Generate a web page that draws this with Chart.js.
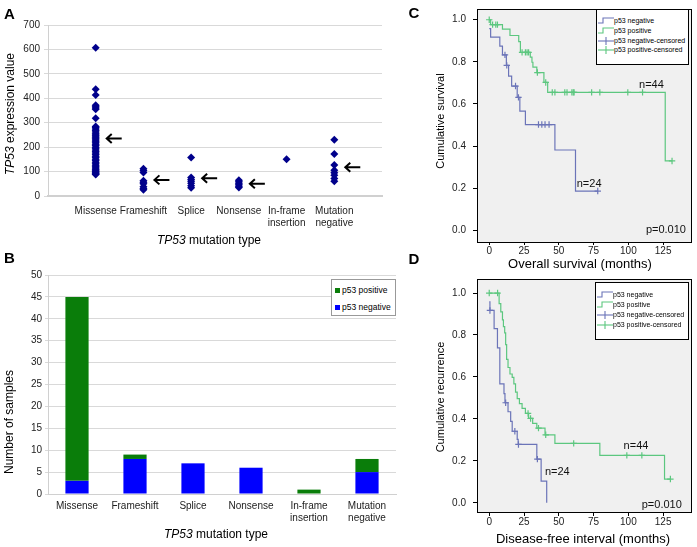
<!DOCTYPE html>
<html>
<head>
<meta charset="utf-8">
<script src="https://cdn.jsdelivr.net/npm/chart.js@4.4.0/dist/chart.umd.min.js"></script>
<style>
body{margin:0;width:697px;height:547px;background:#fff;position:relative;overflow:hidden;font-family:"Liberation Sans",Arial,sans-serif;color:#000;}
canvas{position:absolute;}
.lbl{position:absolute;white-space:nowrap;transform:translate(-50%,-50%);line-height:1;}
.rot{transform:translate(-50%,-50%) rotate(-90deg);}
.letter{font-weight:bold;font-size:15px;}
.legend{position:absolute;background:#fff;border:1px solid #000;}
.legend div{position:absolute;white-space:nowrap;line-height:1;}
.legend svg{vertical-align:middle;}
.sq{display:inline-block;width:5px;height:5px;margin-right:2px;vertical-align:middle;}
</style>
</head>
<body>
<canvas id="chartA" width="400" height="255" style="left:0;top:0"></canvas>
<canvas id="chartB" width="400" height="285" style="left:0;top:262px"></canvas>
<canvas id="chartC" width="297" height="274" style="left:400px;top:-4px"></canvas>
<canvas id="chartD" width="297" height="281" style="left:400px;top:266px"></canvas>

<div class="lbl letter" style="left:9.5px;top:12.5px">A</div>
<div class="lbl letter" style="left:9.5px;top:257px">B</div>
<div class="lbl letter" style="left:414px;top:12px">C</div>
<div class="lbl letter" style="left:414px;top:258px">D</div>

<div class="lbl rot" style="left:10px;top:114px;font-size:12px"><i>TP53</i> expression value</div>
<div class="lbl" style="left:209px;top:240px;font-size:12px"><i>TP53</i> mutation type</div>
<div class="lbl rot" style="left:9px;top:422px;font-size:12px">Number of samples</div>
<div class="lbl" style="left:216px;top:534px;font-size:12px"><i>TP53</i> mutation type</div>
<div class="lbl rot" style="left:440px;top:121px;font-size:11px">Cumulative survival</div>
<div class="lbl" style="left:580px;top:263px;font-size:13px">Overall survival (months)</div>
<div class="lbl rot" style="left:440px;top:397px;font-size:11px">Cumulative recurrence</div>
<div class="lbl" style="left:583px;top:538px;font-size:13px">Disease-free interval (months)</div>

<div class="legend" style="left:331px;top:279px;width:63px;height:35px;border-color:#999;font-size:8.5px">
  <div style="left:3px;top:6px"><span class="sq" style="background:#0a7d0a"></span>p53 positive</div>
  <div style="left:3px;top:23px"><span class="sq" style="background:#0000ff"></span>p53 negative</div>
</div>

<div id="legC" class="legend" style="left:596px;top:9px;width:91px;height:54px;font-size:7px"></div>
<div id="legD" class="legend" style="left:595px;top:282px;width:92px;height:56px;font-size:7px"></div>

<script>
// ---- panel A: TP53 expression by mutation type ----
const mutationTypes = ['Missense', 'Frameshift', 'Splice', 'Nonsense', ['In-frame', 'insertion'], ['Mutation', 'negative']];
const missenseExpr = [607, 437, 413, 372, 365, 360, 355, 318, 285, 280, 274, 268, 262, 255, 250, 246, 240, 234,
  229, 224, 218, 212, 207, 200, 195, 188, 182, 176, 170, 163, 158, 150, 145, 138, 132, 126, 120, 115,
  110, 105, 100, 97, 93, 90, 88];
const frameshiftExpr = [112, 104, 96, 62, 56, 50, 38, 31, 26];
const spliceExpr = [158, 76, 68, 60, 52, 42, 34];
const nonsenseExpr = [64, 58, 52, 46, 40, 35];
const inframeExpr = [150];
const mutNegExpr = [230, 172, 127, 105, 95, 85, 72, 60];
const exprArrows = [235, 66, 73, 50, null, 118];
const exprTicks = [0, 100, 200, 300, 400, 500, 600, 700];

// ---- panel B: p53 IHC by mutation type ----
const p53Positive = [42, 1, 0, 0, 1, 3];
const p53Negative = [3, 8, 7, 6, 0, 5];

// ---- panel C: overall survival ----
const osNegTime = [0, 1, 7.6, 9.5, 12.3, 13.9, 16.1, 20.1, 22.0, 26.0, 47.2, 62.0, 78.0];
const osNegSurv = [0.958, 0.917, 0.875, 0.833, 0.783, 0.732, 0.685, 0.631, 0.566, 0.502, 0.381, 0.186, 0.186];
const osNegCens = [11.3, 12.6, 18.9, 21.0, 35.4, 37.8, 40.1, 43.0, 78.0];
const osPosTime = [0, 1, 9.5, 14.9, 21.2, 22.4, 29.5, 30.7, 31.4, 34.2, 39.3, 42.0, 126.5, 131.4];
const osPosSurv = [1, 0.977, 0.955, 0.925, 0.896, 0.845, 0.822, 0.798, 0.775, 0.749, 0.702, 0.655, 0.329, 0.329];
const osPosCens = [0, 2.4, 4.7, 5.9, 23.6, 26.0, 27.2, 28.3, 34.6, 40.6, 45.3, 47.2, 54.3, 55.9, 59.4, 60.4, 61.0,
  73.6, 79.5, 99.6, 110.2, 131.4];

// ---- panel D: disease-free interval ----
const dfiNegTime = [0, 0.5, 3.5, 5.9, 7.6, 10.6, 11.3, 13.5, 15.4, 16.5, 20.1, 20.8, 34.2, 37.3, 41.3];
const dfiNegSurv = [0.958, 0.917, 0.83, 0.739, 0.567, 0.52, 0.477, 0.434, 0.388, 0.341, 0.302, 0.278, 0.208, 0.103, 0];
const dfiNegCens = [0.5, 11.8, 18.4, 21.0, 34.6];
const dfiPosTime = [0, 7.1, 8.3, 9.5, 10.2, 11.1, 11.8, 12.5, 13.5, 14.9, 16.5, 17.7, 18.9, 20.1, 21.7, 23.6, 26.0,
  28.3, 31.2, 34.2, 40.1, 47.2, 79.5, 126.0, 130.2];
const dfiPosSurv = [1, 0.95, 0.91, 0.872, 0.84, 0.81, 0.754, 0.684, 0.645, 0.614, 0.598, 0.567, 0.528, 0.497, 0.473,
  0.45, 0.426, 0.402, 0.379, 0.356, 0.324, 0.283, 0.226, 0.113, 0.113];
const dfiPosCens = [0, 6.0, 27.9, 29.7, 35.4, 40.6, 60.7, 98.9, 109.7, 130.2];

const kmXTicks = [0, 25, 50, 75, 100, 125];
const kmYTicks = [0, 0.2, 0.4, 0.6, 0.8, 1.0];
const kmLegend = ['p53 negative', 'p53 positive', 'p53 negative-censored', 'p53 positive-censored'];

const NAVY = '#00008b', GREEN_BAR = '#0a7d0a', BLUE_BAR = '#0000ff';
const KM_BLUE = '#6b74b8', KM_GREEN = '#5cc77f';
const GRID = '#d9d9d9';

Chart.defaults.font.family = '"Liberation Sans", Arial, sans-serif';
Chart.defaults.color = '#222';
Chart.defaults.animation = false;

// ---------- A ----------
const exprGroups = [missenseExpr, frameshiftExpr, spliceExpr, nonsenseExpr, inframeExpr, mutNegExpr];
const exprPoints = [];
exprGroups.forEach((g, i) => g.forEach(v => exprPoints.push({x: i + 1, y: v})));

const arrowPlugin = {
  id: 'arrows',
  afterDatasetsDraw(chart) {
    const {ctx, scales: {x, y}} = chart;
    ctx.save();
    ctx.strokeStyle = '#000';
    ctx.lineWidth = 2;
    exprArrows.forEach((m, i) => {
      if (m == null) return;
      const px = x.getPixelForValue(i + 1) + 10, py = y.getPixelForValue(m);
      ctx.beginPath();
      ctx.moveTo(px + 16, py); ctx.lineTo(px + 1, py);
      ctx.moveTo(px + 6, py - 4.5); ctx.lineTo(px + 1, py); ctx.lineTo(px + 6, py + 4.5);
      ctx.stroke();
    });
    ctx.restore();
  }
};

new Chart(document.getElementById('chartA'), {
  type: 'scatter',
  data: {datasets: [{data: exprPoints, pointStyle: 'rectRot', pointRadius: 4, backgroundColor: NAVY, borderColor: NAVY, borderWidth: 0}]},
  options: {
    responsive: false,
    layout: {padding: {top: 25, right: 18, left: 0, bottom: 0}},
    plugins: {legend: {display: false}, tooltip: {enabled: false}},
    scales: {
      x: {
        type: 'linear', min: 0, max: 7,
        afterBuildTicks: s => { s.ticks = mutationTypes.map((_, i) => ({value: i + 1})); },
        afterFit: s => { s.height = 59; },
        grid: {display: false, drawTicks: false},
        border: {color: '#d0d0d0', width: 2},
        ticks: {autoSkip: false, maxRotation: 0, padding: 9, font: {size: 10}, callback: v => mutationTypes[v - 1]}
      },
      y: {
        min: 0, max: 700,
        afterBuildTicks: s => { s.ticks = exprTicks.map(v => ({value: v})); },
        afterFit: s => { s.width = 48; },
        grid: {color: GRID, tickLength: 4},
        border: {color: '#d0d0d0'},
        ticks: {padding: 4, font: {size: 10}}
      }
    }
  },
  plugins: [arrowPlugin]
});

// ---------- B ----------
new Chart(document.getElementById('chartB'), {
  type: 'bar',
  data: {
    labels: mutationTypes,
    datasets: [
      {label: 'p53 negative', data: p53Negative, backgroundColor: BLUE_BAR, barPercentage: 0.4, categoryPercentage: 1},
      {label: 'p53 positive', data: p53Positive, backgroundColor: GREEN_BAR, barPercentage: 0.4, categoryPercentage: 1}
    ]
  },
  options: {
    responsive: false,
    layout: {padding: {top: 13, right: 4, left: 0, bottom: 0}},
    plugins: {legend: {display: false}, tooltip: {enabled: false}},
    scales: {
      x: {
        stacked: true,
        afterFit: s => { s.height = 53; },
        grid: {display: false, drawTicks: false},
        border: {color: '#d0d0d0'},
        ticks: {autoSkip: false, maxRotation: 0, padding: 6, font: {size: 10}}
      },
      y: {
        stacked: true, min: 0, max: 50,
        ticks: {stepSize: 5, padding: 3, font: {size: 10}},
        afterFit: s => { s.width = 48; },
        grid: {color: GRID, tickLength: 3},
        border: {color: '#d0d0d0'}
      }
    }
  }
});

// ---------- C & D (Kaplan-Meier) ----------
function stepValue(times, surv, t) {
  let v = surv[0];
  for (let i = 0; i < times.length; i++) if (times[i] <= t) v = surv[i];
  return v;
}
function kmSets(times, surv, cens, color) {
  return [
    {type: 'line', data: times.map((t, i) => ({x: t, y: surv[i]})), stepped: true, borderColor: color, borderWidth: 1.2, pointRadius: 0, fill: false},
    {type: 'scatter', data: cens.map(t => ({x: t, y: stepValue(times, surv, t)})), pointStyle: 'cross', pointRadius: 3.2, borderColor: color, borderWidth: 1.2}
  ];
}
const kmFrame = {
  id: 'kmFrame',
  beforeDraw(chart) {
    const {ctx, chartArea: a} = chart;
    ctx.save(); ctx.fillStyle = '#f0f0f0';
    ctx.fillRect(a.left, a.top, a.right - a.left, a.bottom - a.top);
    ctx.restore();
  },
  afterDraw(chart) {
    const {ctx, chartArea: a} = chart;
    ctx.save(); ctx.strokeStyle = '#000'; ctx.lineWidth = 1;
    ctx.strokeRect(Math.round(a.left) + 0.5, Math.round(a.top) + 0.5, Math.round(a.right - a.left) - 1, Math.round(a.bottom - a.top));
    ctx.fillStyle = '#111'; ctx.font = '11px "Liberation Sans", Arial, sans-serif';
    ctx.textAlign = 'center'; ctx.textBaseline = 'middle';
    const {x, y} = chart.scales;
    chart.options.plugins.kmFrame.notes.forEach(n => ctx.fillText(n.text, x.getPixelForValue(n.x), y.getPixelForValue(n.y)));
    ctx.restore();
  }
};
function kmChart(id, sets, yMin, yMax, yTitleHeight, xPad, xTick, notes) {
  new Chart(document.getElementById(id), {
    type: 'line',
    data: {datasets: sets},
    options: {
      responsive: false,
      layout: {padding: {top: yTitleHeight, right: 2, left: 0, bottom: 0}},
      plugins: {legend: {display: false}, tooltip: {enabled: false}, kmFrame: {notes}},
      scales: {
        x: {
          type: 'linear', min: -8.8, max: 145.6,
          afterBuildTicks: s => { s.ticks = kmXTicks.map(v => ({value: v})); },
          afterFit: s => { s.height = xPad; },
          grid: {drawOnChartArea: false, color: '#000', tickLength: xTick},
          border: {display: false},
          ticks: {padding: 0, font: {size: 10}, color: '#222'}
        },
        y: {
          min: yMin, max: yMax,
          afterBuildTicks: s => { s.ticks = kmYTicks.map(v => ({value: v})); },
          afterFit: s => { s.width = 77; },
          grid: {drawOnChartArea: false, color: '#000', tickLength: 4},
          border: {display: false},
          ticks: {padding: 7, font: {size: 10}, color: '#222', callback: v => v.toFixed(1)}
        }
      }
    },
    plugins: [kmFrame]
  });
}
kmChart('chartC', [...kmSets(osNegTime, osNegSurv, osNegCens, KM_BLUE), ...kmSets(osPosTime, osPosSurv, osPosCens, KM_GREEN)],
  -0.056, 1.051, 8, 28, 3,
  [{x: 116.6, y: 0.69, text: 'n=44'}, {x: 71.8, y: 0.22, text: 'n=24'}, {x: 127, y: 0.0, text: 'p=0.010'}]);
kmChart('chartD', [...kmSets(dfiNegTime, dfiNegSurv, dfiNegCens, KM_BLUE), ...kmSets(dfiPosTime, dfiPosSurv, dfiPosCens, KM_GREEN)],
  -0.044, 1.067, 9, 35, 4,
  [{x: 105.5, y: 0.27, text: 'n=44'}, {x: 48.9, y: 0.145, text: 'n=24'}, {x: 124, y: -0.01, text: 'p=0.010'}]);

// KM legends
function buildLegend(el, rows) {
  const colors = [KM_BLUE, KM_GREEN, KM_BLUE, KM_GREEN];
  el.innerHTML = kmLegend.map((t, i) => {
    const c = colors[i];
    const sw = i < 2
      ? `<polyline points="0,7 5,7 5,2 16,2" fill="none" stroke="${c}" stroke-width="1.1"/>`
      : `<line x1="0" y1="5" x2="16" y2="5" stroke="${c}" stroke-width="1.1"/><line x1="8" y1="1" x2="8" y2="9" stroke="${c}" stroke-width="1.1"/>`;
    return `<div style="left:1px;top:${rows[i]}px"><svg width="16" height="10">${sw}</svg>${t}</div>`;
  }).join('');
}
buildLegend(document.getElementById('legC'), [6, 16, 26, 35]);
buildLegend(document.getElementById('legD'), [7, 17, 27, 37]);
</script>
</body>
</html>
